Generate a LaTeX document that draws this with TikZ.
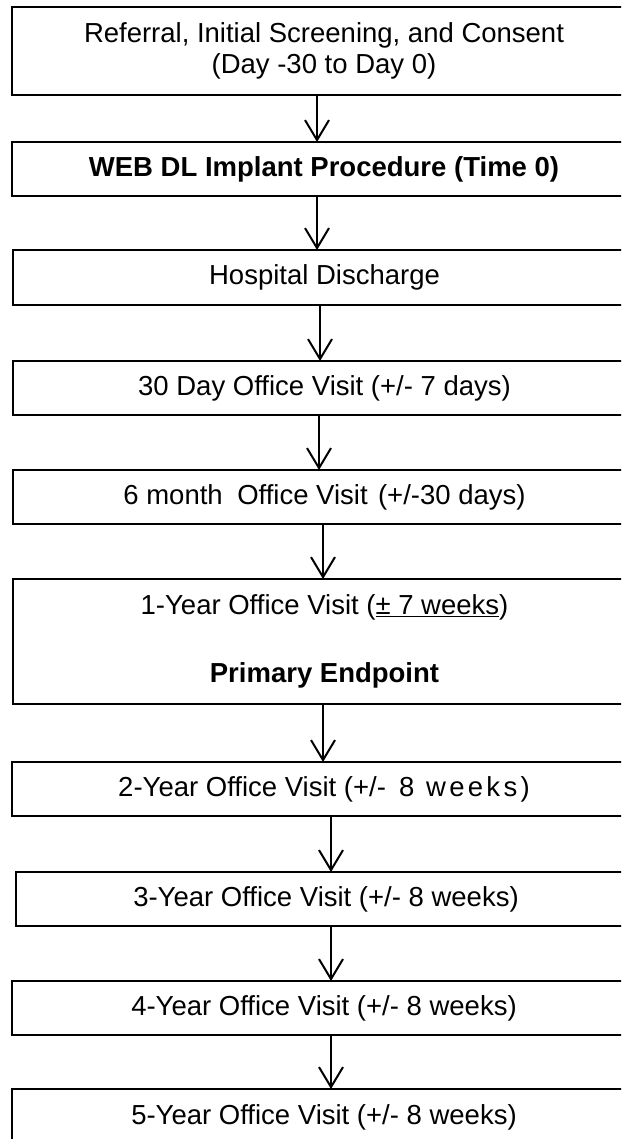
\documentclass[tikz,border=0pt]{standalone}
\usepackage{fontspec}
\setmainfont{Liberation Sans}
\usetikzlibrary{arrows.meta}
\begin{document}
\begin{tikzpicture}[x=1pt,y=-1pt,
  box/.style={draw, line width=2.5pt, inner sep=0pt, outer sep=0pt, anchor=north west,
    align=center, font=\fontsize{27.5}{31}\selectfont},
  arr/.style={line width=2pt, -{Straight Barb[length=20pt,width=24pt,line width=2pt]}}]
\useasboundingbox (0,0) rectangle (621,1139);
\clip (0,0) rectangle (621,1139);
\node[box, minimum width=624pt, minimum height=88pt] (n1) at (12,7)
  {Referral, Initial Screening, and Consent\\(Day -30 to Day 0)};
\node[box, minimum width=624pt, minimum height=54pt] (n2) at (12,142)
  {\textbf{WEB DL Implant Procedure (Time 0)}};
\node[box, minimum width=623pt, minimum height=55pt] (n3) at (13,250)
  {Hospital Discharge};
\node[box, minimum width=623pt, minimum height=54pt] (n4) at (13,361)
  {30 Day Office Visit (+/- 7 days)};
\node[box, minimum width=623pt, minimum height=54pt] (n5) at (13,470)
  {6 month\hspace{0.25em} Office Visit\hspace{0.1em} (+/-30 days)};
\node[box, minimum width=623pt, minimum height=125pt] (n6) at (13,579)
  {1-Year Office Visit (\underline{±~7 weeks})\\[3pt]\mbox{}\\[3pt]\textbf{Primary Endpoint}};
\node[box, minimum width=624pt, minimum height=54pt] (n7) at (12,762)
  {2-Year Office Visit (+/-\hspace{0.2em} 8\hspace{0.15em} {\addfontfeature{LetterSpace=12}weeks)}};
\node[box, minimum width=620pt, minimum height=54pt] (n8) at (16,872)
  {3-Year Office Visit (+/- 8 weeks)};
\node[box, minimum width=624pt, minimum height=54pt] (n9) at (12,981)
  {4-Year Office Visit (+/- 8 weeks)};
\node[box, minimum width=624pt, minimum height=70pt] (n10) at (12,1089) {};
\node[font=\fontsize{27.5}{31}\selectfont, inner sep=0pt] (t10) at (324,1117) {5-Year Office Visit (+/- 8 weeks)};
\draw[arr] (n1.south -| 317,0) -- (n2.north -| 317,0);
\draw[arr] (n2.south -| 317,0) -- (n3.north -| 317,0);
\draw[arr] (n3.south -| 320,0) -- (n4.north -| 320,0);
\draw[arr] (n4.south -| 319,0) -- (n5.north -| 319,0);
\draw[arr] (n5.south -| 323,0) -- (n6.north -| 323,0);
\draw[arr] (n6.south -| 323,0) -- (n7.north -| 323,0);
\draw[arr] (n7.south -| 331,0) -- (n8.north -| 331,0);
\draw[arr] (n8.south -| 331,0) -- (n9.north -| 331,0);
\draw[arr] (n9.south -| 331,0) -- (n10.north -| 331,0);
\end{tikzpicture}
\end{document}
